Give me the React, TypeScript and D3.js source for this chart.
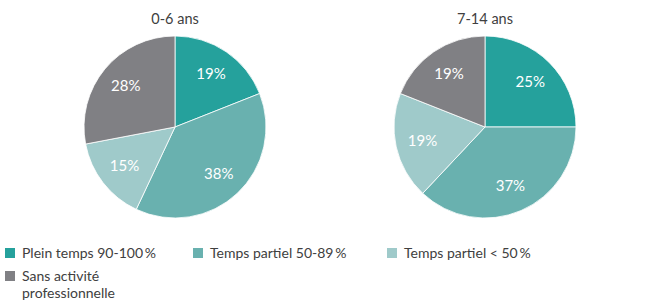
import React from "react";
import * as d3 from "d3";

const categories = ["Plein temps 90-100\u2009%", "Temps partiel 50-89\u2009%", "Temps partiel < 50\u2009%", "Sans activité professionnelle"];
const groups = ["0-6 ans", "7-14 ans"];
const values06 = [19, 38, 15, 28];
const values714 = [25, 37, 19, 19];
const colors = ["#25a19c", "#69b1af", "#9fcaca", "#808084"];

const W = 657, H = 301;
const R = 91;
const centers = [[175, 127], [485, 127]];
const seriesList = [values06, values714];

export default function App() {
  const pie = d3.pie<number>().sort(null).value((d) => d);
  const arc = d3.arc<d3.PieArcDatum<number>>().innerRadius(0).outerRadius(R);
  const labelArc = d3.arc<d3.PieArcDatum<number>>().innerRadius(64).outerRadius(64);
  const font = "Lato, 'Open Sans', sans-serif";
  const legendPos = [[5, 248], [193, 248], [387, 248], [5, 271]];
  return (
    <svg width={W} height={H} style={{ position: "absolute", left: 0, top: 0 }} fontFamily={font}>
      {seriesList.map((vals, gi) => {
        const arcs = pie(vals);
        const [cx, cy] = centers[gi];
        return (
          <g key={gi}>
            <text x={cx} y={24} textAnchor="middle" fontSize={14.5} fill="#404040">{groups[gi]}</text>
            <g transform={`translate(${cx},${cy})`}>
              {arcs.map((a, i) => (
                <path key={i} d={arc(a) || ""} fill={colors[i]} stroke="#fff" strokeWidth={0.8} />
              ))}
              {arcs.map((a, i) => {
                const [lx, ly] = labelArc.centroid(a);
                return (
                  <text key={i} x={lx} y={ly} dy="0.35em" textAnchor="middle" fontSize={15} fill="#fff">{vals[i]}%</text>
                );
              })}
            </g>
          </g>
        );
      })}
      {categories.map((c, i) => {
        const [x, y] = legendPos[i];
        const lines = i === 3 ? ["Sans activité", "professionnelle"] : [c];
        return (
          <g key={i}>
            <rect x={x} y={y} width={10} height={10} fill={colors[i]} />
            {lines.map((t, j) => (
              <text key={j} x={x + 17} y={y + 5 + j * 17} dy="0.35em" fontSize={14} fill="#404040">{t}</text>
            ))}
          </g>
        );
      })}
    </svg>
  );
}
